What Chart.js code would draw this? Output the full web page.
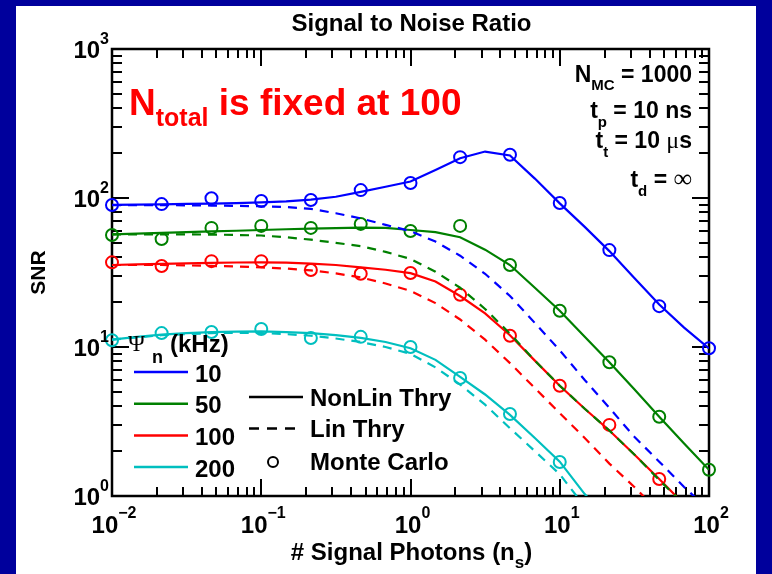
<!DOCTYPE html>
<html lang="en">
<head>
  <meta charset="UTF-8">
  <title>Signal to Noise Ratio</title>
  <script src="https://cdn.jsdelivr.net/npm/chart.js"></script>
  <style>
    body { margin: 0; background: #00009c; width: 772px; height: 574px; overflow: hidden; }
    #wrap { position: absolute; left: 16px; top: 6px; width: 740px; height: 568px; background: #fff; }
  </style>
</head>
<body>
<div id="wrap"><canvas id="snrChart" width="740" height="568"></canvas></div>

<script>
    // photon counts (x)
    const photonsMC = [0.01, 0.0215, 0.0464, 0.1, 0.215, 0.464, 1, 2.15, 4.64, 10, 21.5, 46.4, 100];
    const photonsThry = [0.01, 0.0147, 0.0215, 0.0316, 0.0464, 0.0681, 0.1, 0.147, 0.215, 0.316, 0.464, 0.681,
        1, 1.47, 2.15, 3.16, 4.64, 6.81, 10, 14.7, 21.5, 31.6, 46.4, 68.1, 100];

    const psiLabels = ['10', '50', '100', '200'];
    const psiColors = ['#0000ff', '#008000', '#ff0000', '#00bfbf'];

    // nonlinear theory
    const nonlin10 = [90, 90.3, 90.7, 91.2, 91.8, 92.5, 93.5, 95, 97.5, 102, 110, 119, 129, 154, 185, 205, 193, 135, 92, 64, 44, 29, 19.3, 13.5, 9.8];
    const nonlin50 = [57, 57.7, 58.4, 59, 59.7, 60.3, 61, 61.7, 62.3, 62.8, 63.2, 63, 61, 59, 54.5, 45, 35.5, 25, 17.5, 11.7, 7.9, 5.2, 3.4, 2.25, 1.5];
    const nonlin100 = [35.5, 35.8, 36.1, 36.4, 36.7, 36.9, 37, 36.8, 36.3, 35.5, 34.2, 33, 31.3, 27.5, 22, 16.8, 12, 8.1, 5.5, 3.85, 2.75, 1.9, 1.3, 0.88, 0.6];
    const nonlin200 = [11.2, 11.7, 12.1, 12.4, 12.6, 12.7, 12.75, 12.6, 12.4, 12, 11.5, 10.8, 9.8, 8.2, 6.3, 4.8, 3.5, 2.45, 1.7, 1.03, 0.68, 0.45, 0.3, 0.2, 0.13];

    // linear theory
    const lin10 = [89.5, 89.5, 89.5, 89.3, 89, 88.5, 88, 87, 84.5, 79, 73, 66, 60, 51, 41, 31, 22, 14.5, 9.5, 6, 3.9, 2.5, 1.7, 1.15, 0.8];
    const lin50 = [57, 57, 57, 57, 56.8, 56.5, 56, 54.5, 52.5, 50, 47.5, 43.5, 39, 32, 25, 18, 12.3, 8.1, 5.5, 3.85, 2.75, 1.9, 1.28, 0.88, 0.6];
    const lin100 = [35.5, 35.5, 35.5, 35.3, 35, 34.7, 34.2, 33.6, 32.7, 31.2, 29.3, 26.7, 23.8, 19.7, 15.3, 11.2, 7.8, 5.3, 3.6, 2.45, 1.65, 1.15, 0.78, 0.55, 0.38];
    const lin200 = [11.2, 11.6, 12, 12.2, 12.4, 12.45, 12.4, 12.2, 11.9, 11.4, 10.8, 10, 9, 7.3, 5.6, 4.1, 2.85, 2.0, 1.4, 0.85, 0.58, 0.39, 0.26, 0.18, 0.12];

    // Monte Carlo
    const mc10 = [89.7, 91, 99.5, 95.5, 97, 113, 126, 188, 195, 92.5, 44.7, 18.8, 9.8];
    const mc50 = [56.5, 53, 63, 65, 63, 67, 60, 65, 35.5, 17.5, 7.9, 3.4, 1.5];
    const mc100 = [37, 35, 37.7, 37.7, 32.9, 31, 31.4, 22.4, 11.9, 5.5, 3.0, 1.3];
    const mc200 = [11.1, 12.4, 12.6, 13.2, 11.5, 11.7, 10, 6.2, 3.55, 1.69];

    const xExps = [-2, -1, 0, 1, 2];
    const yExps = [0, 1, 2, 3];

    const nonlin = [nonlin10, nonlin50, nonlin100, nonlin200];
    const lin = [lin10, lin50, lin100, lin200];
    const mc = [mc10, mc50, mc100, mc200];

    const FAM = '"Liberation Sans", Arial, sans-serif';
    const bold = s => `bold ${s}px ${FAM}`;
    const SERIF = '"Liberation Serif", "DejaVu Serif", serif';

    const pts = (xs, ys) => ys.map((y, i) => ({ x: xs[i], y }));

    const datasets = [];
    psiLabels.forEach((lab, i) => {
        datasets.push({
            label: lab + ' NonLin', data: pts(photonsThry, nonlin[i]), showLine: true,
            borderColor: psiColors[i], borderWidth: 2.2, pointRadius: 0, tension: 0
        });
        datasets.push({
            label: lab + ' Lin', data: pts(photonsThry, lin[i]), showLine: true,
            borderColor: psiColors[i], borderWidth: 2.2, borderDash: [9, 7], pointRadius: 0, tension: 0
        });
        datasets.push({
            label: lab + ' MC', data: pts(photonsMC, mc[i]), showLine: false,
            borderColor: psiColors[i], backgroundColor: 'rgba(0,0,0,0)',
            pointRadius: 6, pointBorderWidth: 2, pointStyle: 'circle', clip: 10
        });
    });

    function rich(ctx, parts, x, y, align) {
        let w = 0;
        parts.forEach(p => { ctx.font = p[1]; w += ctx.measureText(p[0]).width; });
        let cx = align === 'right' ? x - w : align === 'center' ? x - w / 2 : x;
        ctx.textAlign = 'left';
        ctx.textBaseline = 'alphabetic';
        parts.forEach(p => {
            ctx.font = p[1];
            ctx.fillText(p[0], cx, y + (p[2] || 0));
            cx += ctx.measureText(p[0]).width;
        });
    }

    const supText = e => (e < 0 ? '\u2212' : '') + Math.abs(e);

    const decor = {
        id: 'decor',
        beforeDatasetsDraw(chart) {
            const ctx = chart.ctx;
            const { left, right, top, bottom } = chart.chartArea;
            const xs = chart.scales.x, ys = chart.scales.y;
            ctx.save();
            ctx.strokeStyle = '#000';
            ctx.lineWidth = 2;
            ctx.beginPath();
            for (let d = -2; d <= 2; d++) {
                for (let m = 1; m <= 9; m++) {
                    const v = m * Math.pow(10, d);
                    if (v > 100.001) continue;
                    const px = Math.round(xs.getPixelForValue(v));
                    const len = m === 1 ? 17 : 9;
                    ctx.moveTo(px, bottom); ctx.lineTo(px, bottom - len);
                    ctx.moveTo(px, top); ctx.lineTo(px, top + len);
                }
            }
            for (let d = 0; d <= 3; d++) {
                for (let m = 1; m <= 9; m++) {
                    const v = m * Math.pow(10, d);
                    if (v > 1000.001) continue;
                    const py = Math.round(ys.getPixelForValue(v));
                    const len = m === 1 ? 17 : 10;
                    ctx.moveTo(left, py); ctx.lineTo(left + len, py);
                    ctx.moveTo(right, py); ctx.lineTo(right - len, py);
                }
            }
            ctx.stroke();
            ctx.lineWidth = 2.5;
            ctx.strokeRect(left, top, right - left, bottom - top);
            ctx.restore();
        },
        afterDraw(chart) {
            const ctx = chart.ctx;
            const { left, right, top, bottom } = chart.chartArea;
            const xs = chart.scales.x, ys = chart.scales.y;
            ctx.save();
            ctx.fillStyle = '#000';

            // tick labels
            xExps.forEach(e => {
                const px = xs.getPixelForValue(Math.pow(10, e));
                rich(ctx, [['10', bold(24)], [supText(e), bold(16), -15]], px + 2, bottom + 37, 'center');
            });
            yExps.forEach(e => {
                const py = ys.getPixelForValue(Math.pow(10, e));
                rich(ctx, [['10', bold(24)], [supText(e), bold(16), -14]], left - 3, py + 8.5, 'right');
            });

            // title and axis titles
            const cx = (left + right) / 2;
            rich(ctx, [['Signal to Noise Ratio', bold(24)]], cx + 1, 25, 'center');
            rich(ctx, [['# Signal Photons (n', bold(24)], ['s', bold(17), 8], [')', bold(24)]], cx + 1, 554, 'center');
            ctx.save();
            ctx.translate(22, (top + bottom) / 2);
            ctx.rotate(-Math.PI / 2);
            rich(ctx, [['SNR', bold(21)]], 0, 7, 'center');
            ctx.restore();

            // annotations
            ctx.fillStyle = '#ff0000';
            rich(ctx, [['N', bold(37)], ['total', bold(25), 11], [' is fixed at 100', bold(37)]], 113, 109, 'left');
            ctx.fillStyle = '#000';
            const rx = right - 17;
            rich(ctx, [['N', bold(23)], ['MC', bold(15), 8], [' = 1000', bold(23)]], rx, 76, 'right');
            rich(ctx, [['t', bold(23)], ['p', bold(15), 9], [' = 10 ns', bold(23)]], rx, 112, 'right');
            rich(ctx, [['t', bold(23)], ['t', bold(15), 9], [' = 10 ', bold(23)], ['\u03bc', `24px ${SERIF}`], ['s', bold(23)]], rx, 142, 'right');
            rich(ctx, [['t', bold(23)], ['d', bold(15), 9], [' = ', bold(23)], ['\u221e', `26px ${SERIF}`]], rx, 181, 'right');

            // legend: colours
            rich(ctx, [['\u03a8', `23px ${SERIF}`]], 112, 345, 'left');
            rich(ctx, [['n', bold(18)]], 136, 357, 'left');
            rich(ctx, [['(kHz)', bold(24)]], 154, 346, 'left');
            ctx.lineWidth = 2.5;
            psiLabels.forEach((lab, i) => {
                const y = 366 + i * 31.7;
                ctx.strokeStyle = psiColors[i];
                ctx.beginPath(); ctx.moveTo(118, y); ctx.lineTo(172, y); ctx.stroke();
                ctx.fillStyle = '#000';
                rich(ctx, [[lab, bold(24)]], 179, y + 9.5, 'left');
            });

            // legend: line styles
            ctx.strokeStyle = '#000';
            ctx.lineWidth = 2.5;
            ctx.beginPath(); ctx.moveTo(233, 391); ctx.lineTo(287, 391); ctx.stroke();
            ctx.setLineDash([10, 8]);
            ctx.beginPath(); ctx.moveTo(233, 422.5); ctx.lineTo(287, 422.5); ctx.stroke();
            ctx.setLineDash([]);
            ctx.lineWidth = 2;
            ctx.beginPath(); ctx.arc(257, 456, 5, 0, Math.PI * 2); ctx.stroke();
            rich(ctx, [['NonLin Thry', bold(24)]], 294, 400, 'left');
            rich(ctx, [['Lin Thry', bold(24)]], 294, 431, 'left');
            rich(ctx, [['Monte Carlo', bold(24)]], 294, 464, 'left');
            ctx.restore();
        }
    };

    new Chart(document.getElementById('snrChart'), {
        type: 'scatter',
        data: { datasets },
        options: {
            responsive: false,
            animation: false,
            devicePixelRatio: 1,
            layout: { autoPadding: false, padding: { left: 0, right: 47, top: 43, bottom: 0 } },
            plugins: { legend: { display: false }, tooltip: { enabled: false }, title: { display: false } },
            scales: {
                x: {
                    type: 'logarithmic', min: 0.01, max: 100,
                    ticks: { display: false }, grid: { display: false }, border: { display: false },
                    afterFit: s => { s.height = 78; }
                },
                y: {
                    type: 'logarithmic', min: 1, max: 1000,
                    ticks: { display: false }, grid: { display: false }, border: { display: false },
                    afterFit: s => { s.width = 96; }
                }
            }
        },
        plugins: [decor]
    });
</script>
</body>
</html>
